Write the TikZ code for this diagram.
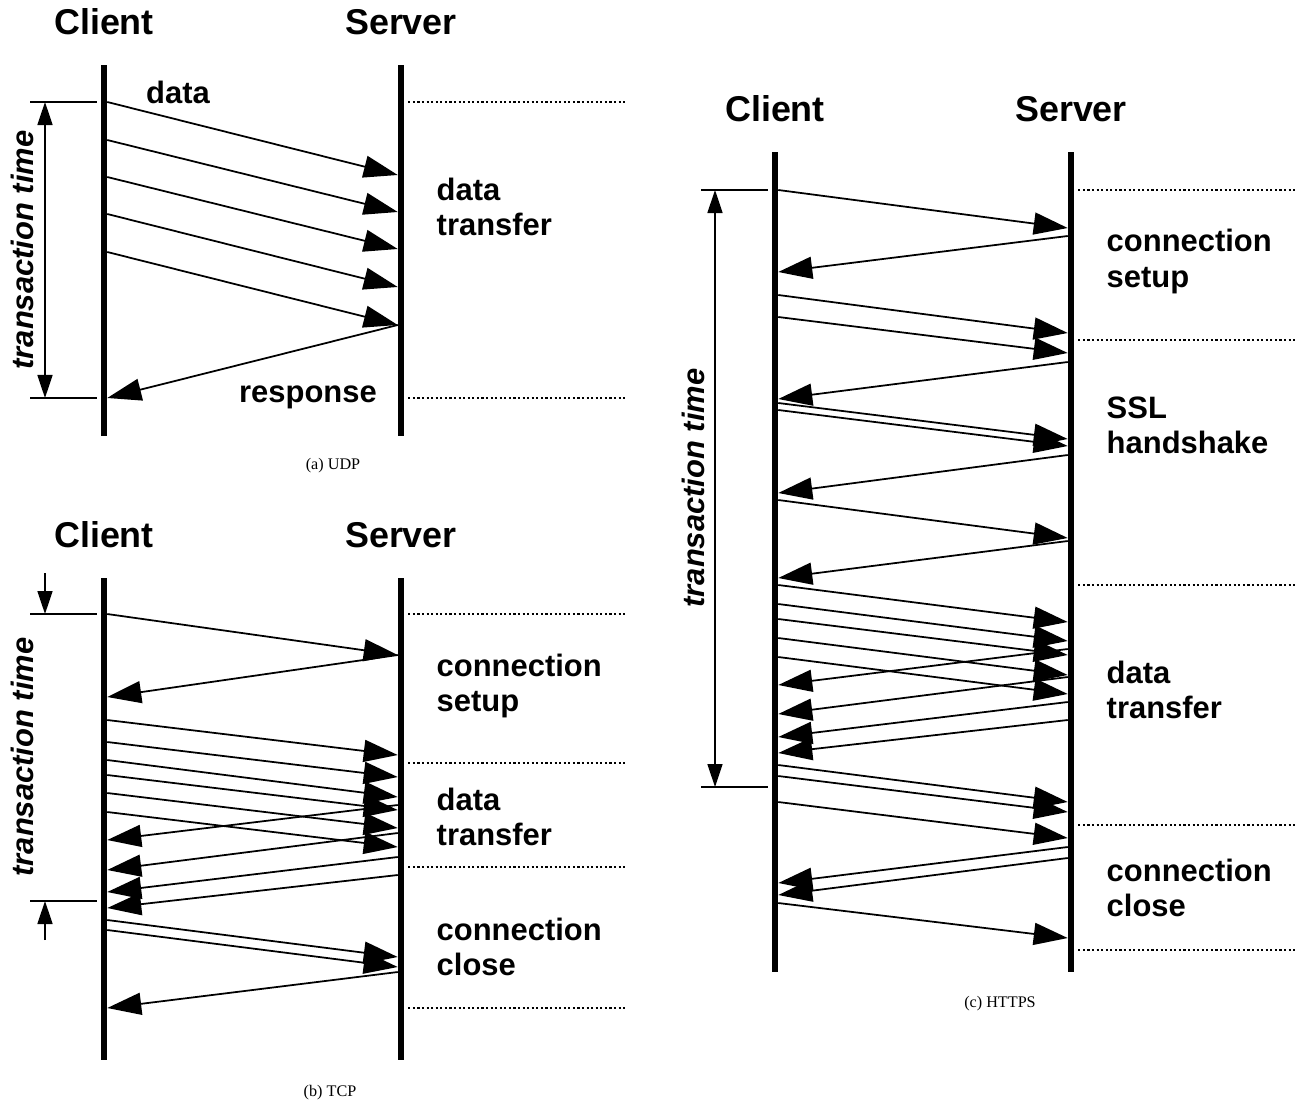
\documentclass[tikz,border=0pt]{standalone}
\usepackage{fontspec}
\setmainfont{Liberation Sans}
\newfontfamily\capfont{Liberation Serif}
\usepackage{tikz}
\usetikzlibrary{arrows.meta, positioning}
\tikzset{
	lifeline/.style={rectangle, fill=black, inner sep=0pt, outer sep=0pt, minimum width=0.065cm},
	msg/.style={line width=0.5pt, -{Triangle[length=0.34cm, width=0.22cm]}},
	phase/.style={line width=0.45pt, dash pattern=on 0.6pt off 0.7pt},
	tick/.style={line width=0.45pt},
	span/.style={line width=0.45pt, {Triangle[length=0.23cm, width=0.15cm]}-{Triangle[length=0.23cm, width=0.15cm]}},
	spanin/.style={line width=0.45pt, -{Triangle[length=0.23cm, width=0.15cm]}},
	actor/.style={font=\fontsize{10.2}{12}\selectfont\bfseries, inner sep=0pt},
	msglabel/.style={font=\fontsize{8.8}{9.96}\selectfont\bfseries, inner sep=0pt},
	phaselabel/.style={msglabel, align=left, anchor=west},
	timelabel/.style={font=\fontsize{8.8}{10}\selectfont\bfseries\itshape, rotate=90, inner sep=0pt},
	subcap/.style={font=\fontsize{4.6}{5.5}\selectfont\capfont, inner sep=0pt}
}

\begin{document}
\begin{tikzpicture}[x=0.01cm, y=-0.01cm]
	\useasboundingbox (0,0) rectangle (1304,1106);

	% (a) UDP
	\node[lifeline, minimum height=3.71cm] (uc) at (104,250.5) {};
	\node[lifeline, minimum height=3.71cm] (us) at (401,250.5) {};
	\node[actor, above=0.29cm of uc] (uclabel) {Client};
	\node[actor, above=0.29cm of us] (uslabel) {Server};
	\foreach \a/\b in {102/175,140/212,177/249,214/287,252/325}
		\draw[msg] (uc.east |- 0,\a) -- (us.west |- 0,\b);
	\draw[msg] (us.west |- 0,325) -- (uc.east |- 0,398);
	\foreach \y in {102,398} {
		\draw[phase] (us.east |- 0,\y) ++(4,0) -- (625,\y);
		\draw[tick] (uc.west |- 0,\y) ++(-4,0) -- (30,\y);
	}
	\coordinate (ut1) at (45,102);
	\coordinate (ut2) at (45,398);
	\draw[span] (ut1) -- (ut2);
	\node[timelabel] (utime) at (22,250) {transaction time};
	\node[msglabel] (udata) at (178,92) {data};
	\node[msglabel] (uresp) at (308,397.5) {response};
	\node[phaselabel] (uxfer) at (436,207) {data\\transfer};
	\node[subcap] (ucap) at (333,466) {(a) UDP};

	% (b) TCP
	\node[lifeline, minimum height=4.82cm] (tc) at (104,819) {};
	\node[lifeline, minimum height=4.82cm] (ts) at (401,819) {};
	\node[actor, above=0.29cm of tc] (tclabel) {Client};
	\node[actor, above=0.29cm of ts] (tslabel) {Server};
	\foreach \a/\b in {614/655,720/755,742/777,760/797,775/810,793/828,812/847,920/957,930/967}
		\draw[msg] (tc.east |- 0,\a) -- (ts.west |- 0,\b);
	\foreach \a/\b in {655/697,805/840,833/870,857/892,875/908,972/1008}
		\draw[msg] (ts.west |- 0,\a) -- (tc.east |- 0,\b);
	\foreach \y in {614,763,867,1008}
		\draw[phase] (ts.east |- 0,\y) ++(4,0) -- (625,\y);
	\foreach \y in {614,901}
		\draw[tick] (tc.west |- 0,\y) ++(-4,0) -- (30,\y);
	\coordinate (tt0) at (45,573);
	\coordinate (tt1) at (45,614);
	\coordinate (tt2) at (45,901);
	\coordinate (tt3) at (45,940);
	\draw[spanin] (tt0) -- (tt1);
	\draw[spanin] (tt3) -- (tt2);
	\node[timelabel] (ttime) at (22,757) {transaction time};
	\node[phaselabel] (tsetup) at (436,685.5) {connection\\setup};
	\node[phaselabel] (txfer) at (436,816.5) {data\\transfer};
	\node[phaselabel] (tclose) at (436,947) {connection\\close};
	\node[subcap] (tcap) at (330,1093) {(b) TCP};

	% (c) HTTPS
	\node[lifeline, minimum height=8.2cm] (hc) at (775,562) {};
	\node[lifeline, minimum height=8.2cm] (hs) at (1071,562) {};
	\node[actor, above=0.29cm of hc] (hclabel) {Client};
	\node[actor, above=0.29cm of hs] (hslabel) {Server};
	\foreach \a/\b in {190/228,295/333,317/353,403/439,410/446,500/538,585/622,604/641,619/655,638/675,657/694,765/802,776/812,802/838,903/938}
		\draw[msg] (hc.east |- 0,\a) -- (hs.west |- 0,\b);
	\foreach \a/\b in {236/272,362/399,455/493,541/578,649/685,677/714,702/737,720/753,847/883,858/895}
		\draw[msg] (hs.west |- 0,\a) -- (hc.east |- 0,\b);
	\foreach \y in {190,340,585,825,950}
		\draw[phase] (hs.east |- 0,\y) ++(4,0) -- (1295,\y);
	\foreach \y in {190,787}
		\draw[tick] (hc.west |- 0,\y) ++(-4,0) -- (701,\y);
	\coordinate (ht1) at (715,190);
	\coordinate (ht2) at (715,787);
	\draw[span] (ht1) -- (ht2);
	\node[timelabel] (htime) at (693,488) {transaction time};
	\node[phaselabel] (hsetup) at (1106,261.5) {connection\\setup};
	\node[phaselabel] (hssl) at (1106,425) {SSL\\handshake};
	\node[phaselabel] (hxfer) at (1106,690) {data\\transfer};
	\node[phaselabel] (hclose) at (1106,887.5) {connection\\close};
	\node[subcap] (hcap) at (1000,1004) {(c) HTTPS};
\end{tikzpicture}
\end{document}
